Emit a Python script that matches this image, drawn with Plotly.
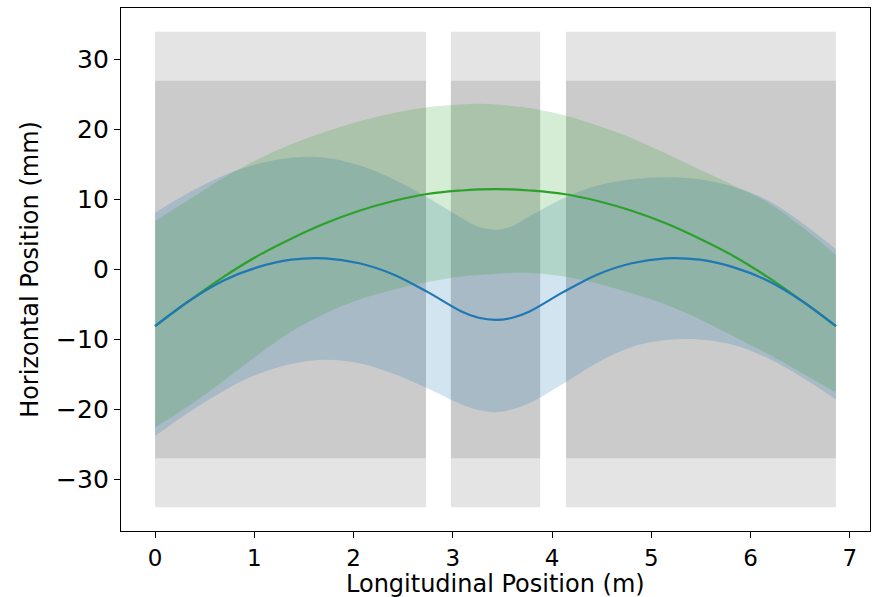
import plotly.graph_objects as go

# ---- data ----
x_pos = [0.0, 0.343, 0.686, 1.029, 1.372, 1.715, 2.058, 2.401, 2.744, 3.087, 3.26, 3.43,
         3.6, 3.773, 4.116, 4.459, 4.802, 5.145, 5.488, 5.831, 6.174, 6.517, 6.86]

blue_center = [-8.1, -4.5, -1.6, 0.3, 1.4, 1.6, 0.9, -0.7, -3.2, -6.0, -6.9, -7.2,
               -6.9, -6.0, -3.2, -0.7, 0.9, 1.6, 1.4, 0.3, -1.6, -4.5, -8.1]
blue_upper = [8.1, 11.0, 13.4, 15.1, 16.0, 16.0, 14.9, 12.9, 10.3, 7.4, 6.1, 5.7,
              6.2, 7.6, 10.2, 12.0, 12.9, 13.2, 12.9, 11.8, 9.9, 6.7, 2.9]
blue_lower = [-23.8, -20.4, -17.4, -15.0, -13.5, -12.9, -13.4, -14.9, -17.0, -19.3, -20.1, -20.4,
              -20.0, -19.1, -16.3, -13.3, -11.1, -10.1, -10.0, -10.8, -12.7, -15.4, -18.6]

green_center = [-8.1, -4.5, -1.1, 1.9, 4.4, 6.6, 8.4, 9.8, 10.8, 11.3, 11.45, 11.5,
                11.45, 11.3, 10.8, 9.8, 8.4, 6.6, 4.4, 1.9, -1.1, -4.5, -8.1]
green_upper = [6.9, 10.0, 13.1, 15.7, 17.9, 19.7, 21.2, 22.4, 23.2, 23.6, 23.7, 23.6,
               23.4, 23.1, 22.1, 20.6, 18.8, 16.6, 14.3, 12.0, 9.6, 6.1, 2.1]
green_lower = [-22.6, -19.5, -16.0, -12.3, -8.9, -6.3, -4.3, -2.9, -1.8, -1.0, -0.8, -0.6,
               -0.5, -0.5, -1.0, -2.0, -3.4, -5.0, -7.1, -9.6, -12.1, -14.8, -17.6]

# aperture segments (m) and half-apertures (mm)
seg_start = [0.0, 2.98, 4.14]
seg_end = [2.73, 3.88, 6.86]
outer_half = 34.0
inner_half = 27.0

x_ticks = [0, 1, 2, 3, 4, 5, 6, 7]
y_ticks = [-30, -20, -10, 0, 10, 20, 30]
y_ticktext = ["\u221230", "\u221220", "\u221210", "0", "10", "20", "30"]
x_title = "Longitudinal Position (m)"
y_title = "Horizontal Position (mm)"

BLUE = "#1f77b4"
GREEN = "#2ca02c"
FONT = "DejaVu Sans"

fig = go.Figure()

# gray aperture shapes
for s, e in zip(seg_start, seg_end):
    fig.add_shape(type="rect", xref="x", yref="y", x0=s, x1=e, y0=-outer_half, y1=outer_half,
                  fillcolor="rgba(0,0,0,0.105)", line_width=0, layer="below")
    fig.add_shape(type="rect", xref="x", yref="y", x0=s, x1=e, y0=-inner_half, y1=inner_half,
                  fillcolor="rgba(0,0,0,0.105)", line_width=0, layer="below")

def band(lower, upper, color):
    fig.add_trace(go.Scatter(x=x_pos, y=lower, mode="lines", line=dict(width=0, shape="spline", smoothing=1),
                             showlegend=False, hoverinfo="skip"))
    fig.add_trace(go.Scatter(x=x_pos, y=upper, mode="lines", line=dict(width=0, shape="spline", smoothing=1),
                             fill="tonexty", fillcolor=color, showlegend=False, hoverinfo="skip"))

band(blue_lower, blue_upper, "rgba(31,119,180,0.2)")
band(green_lower, green_upper, "rgba(44,160,44,0.2)")

fig.add_trace(go.Scatter(x=x_pos, y=green_center, mode="lines",
                         line=dict(color=GREEN, width=2.2, shape="spline", smoothing=1), showlegend=False))
fig.add_trace(go.Scatter(x=x_pos, y=blue_center, mode="lines",
                         line=dict(color=BLUE, width=2.2, shape="spline", smoothing=1), showlegend=False))

axis_common = dict(showgrid=False, zeroline=False, showline=True, linecolor="black", linewidth=1.3,
                   mirror=True, ticks="outside", ticklen=6, tickwidth=1.3, tickcolor="black")

fig.update_xaxes(range=[-0.343, 7.203], tickvals=x_ticks, automargin=False,
                 tickfont=dict(family=FONT, size=23, color="black"), **axis_common)
fig.update_yaxes(range=[-37.4, 37.4], tickvals=y_ticks, ticktext=y_ticktext, automargin=False,
                 tickfont=dict(family=FONT, size=25, color="black"),
                 title=dict(text=y_title, font=dict(family=FONT, size=24, color="black"), standoff=10),
                 **axis_common)

# x-axis title placed at the bottom edge, like the reference
fig.add_annotation(text=x_title, xref="paper", yref="paper", x=0.5, y=0, yshift=-68,
                   xanchor="center", yanchor="bottom", showarrow=False, borderpad=0,
                   font=dict(family=FONT, size=24, color="black"))

fig.update_layout(width=884, height=597, margin=dict(l=121, r=14, t=8, b=66),
                  plot_bgcolor="white", paper_bgcolor="white", showlegend=False)

fig.write_html("out.html")
